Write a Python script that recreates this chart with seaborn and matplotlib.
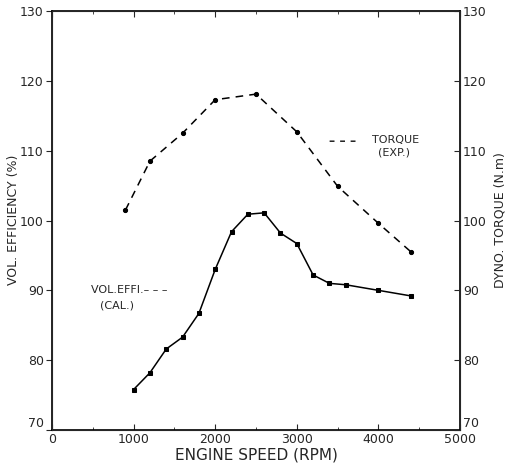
import matplotlib
matplotlib.use("Agg")
import matplotlib.pyplot as plt
import seaborn as sns
import pandas as pd

# Data
vol_rpm = [1000, 1200, 1400, 1600, 1800, 2000, 2200, 2400, 2600, 2800, 3000, 3200, 3400, 3600, 4000, 4400]
vol_eff = [75.8, 78.2, 81.6, 83.3, 86.7, 93.0, 98.4, 100.9, 101.1, 98.2, 96.7, 92.2, 91.0, 90.8, 90.0, 89.2]
torque_rpm = [900, 1200, 1600, 2000, 2500, 3000, 3500, 4000, 4400]
torque_val = [101.5, 108.5, 112.5, 117.3, 118.1, 112.7, 104.9, 99.6, 95.5]
x_ticks = [0, 1000, 2000, 3000, 4000, 5000]
y_ticks = [70, 80, 90, 100, 110, 120, 130]

sns.set_style("ticks")
plt.rcParams['font.family'] = ['DejaVu Sans']

fig = plt.figure(figsize=(5.11, 4.67), dpi=100)
ax = fig.add_axes([0.1018, 0.0792, 0.7984, 0.8972])

df_v = pd.DataFrame({"rpm": vol_rpm, "val": vol_eff})
df_t = pd.DataFrame({"rpm": torque_rpm, "val": torque_val})

sns.lineplot(data=df_v, x="rpm", y="val", ax=ax, color="black", lw=1.1,
             marker="s", markersize=3.5, markeredgecolor="black")
sns.lineplot(data=df_t, x="rpm", y="val", ax=ax, color="black", lw=1.1,
             linestyle=(0, (5, 4)), marker="o", markersize=3, markeredgecolor="black")

ax.set_xlim(0, 5000)
ax.set_ylim(70, 130)
ax.set_xticks(x_ticks)
ax.set_xticklabels([str(v) for v in x_ticks])
ax.set_xticks([500, 1500, 2500, 3500, 4500], minor=True)
ax.set_yticks(y_ticks)
ax.set_yticklabels([str(v) for v in y_ticks])
ax.tick_params(axis="x", direction="in", top=True, length=4, labelsize=9, pad=2)
ax.tick_params(axis="x", which="minor", direction="in", top=True, length=2.5)
ax.tick_params(axis="y", direction="out", length=4, labelsize=9, pad=2)
for s in ax.spines.values():
    s.set_visible(True)
    s.set_linewidth(1.2)
    s.set_color("black")

ax.set_xlabel("ENGINE SPEED (RPM)", fontsize=11, labelpad=1)
ax.set_ylabel("")

ax2 = ax.twinx()
ax2.set_ylim(70, 130)
ax2.set_yticks(y_ticks)
ax2.set_yticklabels([str(v) for v in y_ticks])
ax2.tick_params(axis="y", direction="in", length=4, labelsize=9, pad=2)
ax2.set_ylabel("")

# raise the "70" labels like in the reference
for lab in (ax.get_yticklabels()[0], ax2.get_yticklabels()[0]):
    lab.set_va("bottom")

fig.text(14 / 511, 1 - 220 / 467, "VOL. EFFICIENCY (%)", rotation=90,
         fontsize=9, ha="center", va="center")
fig.text(500 / 511, 1 - 220 / 467, "DYNO. TORQUE (N.m)", rotation=90,
         fontsize=9, ha="center", va="center")

ax.text(3400, 111.3, "– – –", fontsize=9, fontweight="bold", ha="left", va="center")
ax.text(3920, 111.6, "TORQUE", fontsize=8, ha="left", va="center")
ax.text(3990, 109.7, "(EXP.)", fontsize=8, ha="left", va="center")
ax.text(480, 90.0, "VOL.EFFI.– – –", fontsize=8, ha="left", va="center")
ax.text(590, 87.8, "(CAL.)", fontsize=8, ha="left", va="center")

fig.savefig("out.png", dpi=100)
